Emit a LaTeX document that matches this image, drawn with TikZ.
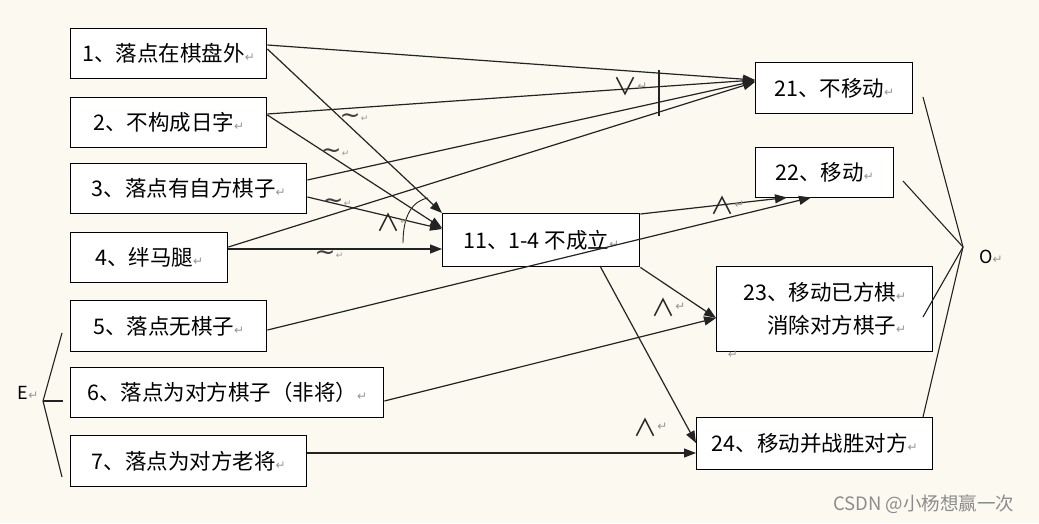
\documentclass[tikz,border=0pt]{standalone}
\usepackage{fontspec}
\setmainfont{Noto Sans CJK SC}
\newfontfamily\dvfont{DejaVu Sans}
\usetikzlibrary{arrows.meta}
\definecolor{bgc}{RGB}{252,249,240}
\definecolor{lnc}{RGB}{35,35,35}
\definecolor{retc}{RGB}{150,150,150}
\newcommand{\retmark}{{\color{retc}\dvfont\fontsize{12}{12}\selectfont ↵}}
\newcommand{\tinyret}{{\color{retc}\dvfont\fontsize{9}{9}\selectfont ↵}}
\begin{document}
\begin{tikzpicture}[x=1pt,y=-1pt,
  box/.style={draw=black, line width=1.4pt, fill=white, anchor=north west, inner sep=0pt,
              font=\fontsize{21.5}{30}\selectfont},
  conn/.style={draw=lnc, line width=1.2pt, -{Triangle[length=12pt,width=9pt]}},
  plain/.style={draw=lnc, line width=1.1pt},
  lbl/.style={inner sep=0pt, font=\fontsize{24}{24}\selectfont, text=black!85},
  wav/.style={inner sep=0pt, font=\dvfont\fontsize{25}{25}\selectfont, text=black!75},
  tl/.style={inner sep=0pt}]
\fill[bgc] (0,0) rectangle (1039,523);
\useasboundingbox (0,0) rectangle (1039,523);

% left boxes
\node[box, minimum width=196pt, minimum height=50pt] (n1) at (70,28) {1、落点在棋盘外\retmark};
\node[box, minimum width=196pt, minimum height=50pt] (n2) at (70,97) {2、不构成日字\retmark};
\node[box, minimum width=236pt, minimum height=50pt] (n3) at (70,163) {3、落点有自方棋子\retmark};
\node[box, minimum width=157pt, minimum height=50pt] (n4) at (70,232) {4、绊马腿\retmark};
\node[box, minimum width=196pt, minimum height=51pt] (n5) at (70,300) {5、落点无棋子\retmark};
\node[box, minimum width=313pt, minimum height=50pt] (n6) at (70,367) {6、落点为对方棋子（非将）\retmark};
\node[box, minimum width=236pt, minimum height=51pt] (n7) at (70,435) {7、落点为对方老将\retmark};

% middle and right boxes
\node[box, minimum width=197pt, minimum height=53pt] (n11) at (442,213) {11、1-4 不成立\retmark};
\node[box, minimum width=157pt, minimum height=51pt] (n21) at (755,62) {21、不移动\retmark};
\node[box, minimum width=138pt, minimum height=50pt] (n22) at (755,147) {22、移动\retmark};
\node[box, minimum width=216pt, minimum height=85pt, align=right,
      font=\fontsize{21.5}{33}\selectfont] (n23) at (716,266) {23、移动已方棋\retmark\\消除对方棋子\retmark};
\node[box, minimum width=236pt, minimum height=52pt] (n24) at (696,417) {24、移动并战胜对方\retmark};

% connectors to 21
\draw[conn] (n1.east |- 0,45) -- (n21.west |- 0,80);
\draw[conn] (n2.east |- 0,114) -- (n21.west |- 0,80);
\draw[conn] (n3.east |- 0,180) -- (n21.west |- 0,81);
\draw[conn] (n4.east |- 0,247) -- (n21.west |- 0,82);
% connectors to 11
\draw[conn] (n1.east |- 0,49) -- (n11.north west);
\draw[conn] (n2.east |- 0,115) -- (n11.west |- 0,228);
\draw[conn] (n3.east |- 0,197) -- (n11.west |- 0,229);
\draw[conn] (n4.east |- 0,249) -- (n11.west |- 0,249);
% connectors to 22, 23, 24
\draw[conn] (n5.east |- 0,330) -- (811,197.5) coordinate (c22b);
\draw[conn] (n11.north east |- 0,214) -- (787,197.5) coordinate (c22a);
\draw[conn] (n11.south east) -- (n23.west |- 0,318);
\draw[conn] (n6.east |- 0,401) -- (n23.west |- 0,318);
\draw[conn] (600,266) coordinate (c11b) -- (n24.west |- 0,443);
\draw[conn] (n7.east |- 0,453) -- (n24.west |- 0,453);

% marks
\draw[plain] (659,70) -- (659,116);
\draw[plain, line width=0.9pt] (403,243) .. controls (403,216) and (412,201) .. (428,198);

\node[lbl] (v21) at (625,87) {∨};
\node[tl, anchor=west] at (v21.east) {\retmark};
\node[lbl] (a11) at (388,222) {∧};
\node[tl, anchor=west] at (a11.east) {\tinyret};
\node[lbl] (a22) at (722,205) {∧};
\node[tl, anchor=west] at (a22.east) {\retmark};
\node[lbl] (a23) at (663,307) {∧};
\node[tl, anchor=west] at (a23.east) {\retmark};
\node[lbl] (a24) at (645,427) {∧};
\node[tl, anchor=west] at (a24.east) {\retmark};
\node[inner sep=0pt] at (733,355) {\retmark};

\node[wav] (w1) at (350,119) {∼};
\node[tl, anchor=west] at (w1.east) {\tinyret};
\node[wav] (w2) at (331,154) {∼};
\node[tl, anchor=west] at (w2.east) {\tinyret};
\node[wav] (w3) at (333,204) {∼};
\node[tl, anchor=west] at (w3.east) {\tinyret};
\node[wav] (w4) at (325,256) {∼};
\node[tl, anchor=west] at (w4.east) {\tinyret};

% O brace
\coordinate (oap) at (963,247);
\coordinate (o1) at (923,97);
\coordinate (o2) at (903,181);
\coordinate (o3) at (923,317);
\coordinate (o4) at (923,417);
\draw[plain] (o1) -- (oap);
\draw[plain] (o2) -- (oap);
\draw[plain] (o3) -- (oap);
\draw[plain] (o4) -- (oap);
\node[inner sep=0pt, font=\fontsize{18}{18}\selectfont] (olab) at (991,257) {O\retmark};

% E brace
\coordinate (eap) at (43,401);
\coordinate (e1) at (62,333);
\coordinate (e2) at (63,401);
\coordinate (e3) at (62,477);
\draw[plain] (eap) -- (e1);
\draw[plain] (eap) -- (e2);
\draw[plain] (eap) -- (e3);
\node[inner sep=0pt, font=\fontsize{18}{18}\selectfont] (elab) at (28,393) {E\retmark};

% watermark
\node[inner sep=0pt, anchor=west, text=black!45, font=\fontsize{18.5}{18.5}\selectfont] (wm) at (833,504) {CSDN @小杨想赢一次};
\end{tikzpicture}
\end{document}
